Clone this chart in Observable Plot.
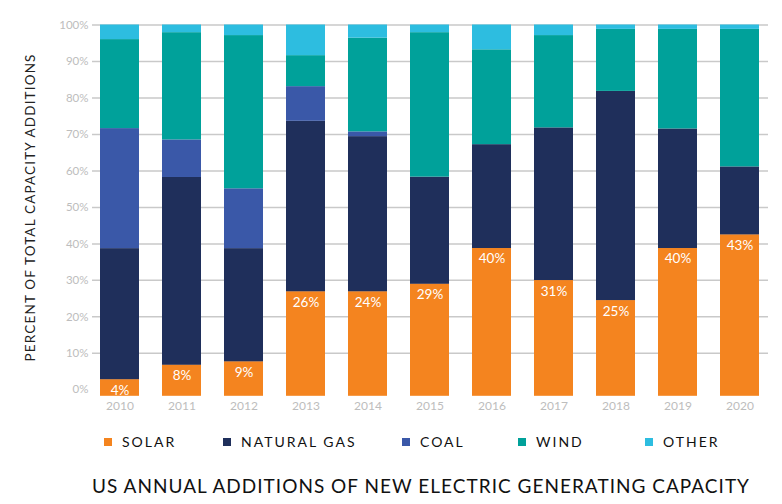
<!DOCTYPE html>
<html>
<head>
<meta charset="utf-8">
<script src="https://cdn.jsdelivr.net/npm/d3@7"></script>
<script src="https://cdn.jsdelivr.net/npm/@observablehq/plot@0.6"></script>
<style>
  body { margin: 0; background: #fff; font-family: Lato, "Open Sans", sans-serif; }
  #wrap { position: relative; width: 782px; height: 504px; overflow: hidden; }
  #chart { position: absolute; left: 0; top: 0; }
  #legend { position: absolute; left: 0; top: 433px; width: 782px; height: 18px; }
  .item { position: absolute; top: 0; display: flex; align-items: center; height: 18px; }
  .sw { width: 8px; height: 8px; margin-right: 10px; }
  .lt { font-size: 14px; color: #111; white-space: nowrap; display: inline-block; line-height: 18px; letter-spacing: 2px; }
  #title { position: absolute; left: 92px; top: 473px; font-size: 19px; color: #111; white-space: nowrap; line-height: 26px; display: inline-block; }
</style>
</head>
<body>
<div id="wrap">
  <div id="chart"></div>
  <div id="legend"></div>
  <div id="title">US ANNUAL ADDITIONS OF NEW ELECTRIC GENERATING CAPACITY</div>
</div>
<script>
// ---- data ----
const years = ["2010","2011","2012","2013","2014","2015","2016","2017","2018","2019","2020"];
const series = ["Solar","Natural Gas","Coal","Wind","Other"];
const legendLabels = ["SOLAR","NATURAL GAS","COAL","WIND","OTHER"];
const solar = [2.7, 6.7, 7.6, 26.8, 26.8, 28.9, 38.7, 29.9, 24.4, 38.7, 42.4];
const naturalGas = [36.0, 51.5, 31.1, 46.8, 42.6, 29.4, 28.5, 41.9, 57.4, 32.8, 18.7];
const coal = [32.9, 10.3, 16.4, 9.5, 1.3, 0, 0, 0, 0, 0, 0];
const wind = [24.4, 29.4, 42.0, 8.5, 25.7, 39.6, 26.0, 25.3, 17.0, 27.3, 37.7];
const other = [4.0, 2.1, 2.9, 8.4, 3.6, 2.1, 6.8, 2.9, 1.2, 1.2, 1.2];
const solarLabels = ["4%","8%","9%","26%","24%","29%","40%","31%","25%","40%","43%"];
const yTicks = [0,10,20,30,40,50,60,70,80,90,100];
const gridTicks = [10,20,30,40,50,60,70,80,90,100];
const yTitle = "PERCENT OF TOTAL CAPACITY ADDITIONS";
const colors = ["#F4841F","#1F2F5B","#3A58A8","#00A19A","#2DBDE0"];

// ---- tables built from the arrays ----
const values = [solar, naturalGas, coal, wind, other];
const rows = years.flatMap((yr, i) => series.map((s, j) => ({year: yr, source: s, value: values[j][i]})));
const solarRows = years.map((yr, i) => ({year: yr, value: solar[i], label: solarLabels[i]}));

const chart = Plot.plot({
  width: 782,
  height: 420,
  marginLeft: 92,
  marginRight: 14,
  marginTop: 24.5,
  marginBottom: 30.7,
  style: {fontFamily: "Lato, 'Open Sans', sans-serif", background: "#fff"},
  x: {domain: years, paddingInner: 0.365, paddingOuter: 0.05, label: null},
  y: {domain: [0, 100], label: null},
  color: {domain: series, range: colors},
  marks: [
    Plot.gridY(gridTicks, {stroke: "#c9c9c9", strokeOpacity: 1, strokeWidth: 1.5}),
    Plot.axisY(yTicks, {tickSize: 0, tickPadding: 4, tickFormat: d => d + "%", fill: "#bdbdbd", fontSize: 11.5,
      label: yTitle, labelAnchor: "center", labelOffset: 67, labelArrow: "none"}),
    Plot.axisX({tickSize: 0, tickPadding: 12, fill: "#bdbdbd", fontSize: 12, label: null}),
    Plot.barY(rows, Plot.stackY({x: "year", y: "value", fill: "source"})),
    Plot.barY(solarRows, {x: "year", y: "value", fill: colors[0], insetBottom: -6.5}),
    Plot.text(solarRows, {x: "year", y: "value", text: "label", dy: 10.5, fill: "white", fontSize: 13.5})
  ]
});
document.getElementById("chart").appendChild(chart);

// y axis title styling
const lab = chart.querySelector('[aria-label="y-axis label"] text') || chart.querySelector('[aria-label="y-axis label"]');
if (lab) {
  lab.setAttribute("fill", "#222");
  lab.style.fontSize = "13.5px";
  const w = lab.getComputedTextLength ? lab.getComputedTextLength() : 0;
  if (w) lab.style.letterSpacing = ((308 - w) / yTitle.length) + "px";
}

// legend
const legend = document.getElementById("legend");
const legendLeft = [104, 223, 402, 518, 645];
series.forEach((s, j) => {
  const it = document.createElement("div"); it.className = "item"; it.style.left = legendLeft[j] + "px";
  const sw = document.createElement("div"); sw.className = "sw"; sw.style.background = colors[j];
  const t = document.createElement("span"); t.className = "lt"; t.textContent = legendLabels[j];
  it.appendChild(sw); it.appendChild(t); legend.appendChild(it);
});

// title fit
const title = document.getElementById("title");
const tw = title.getBoundingClientRect().width;
title.style.letterSpacing = ((658 - tw) / title.textContent.length) + "px";
</script>
</body>
</html>
